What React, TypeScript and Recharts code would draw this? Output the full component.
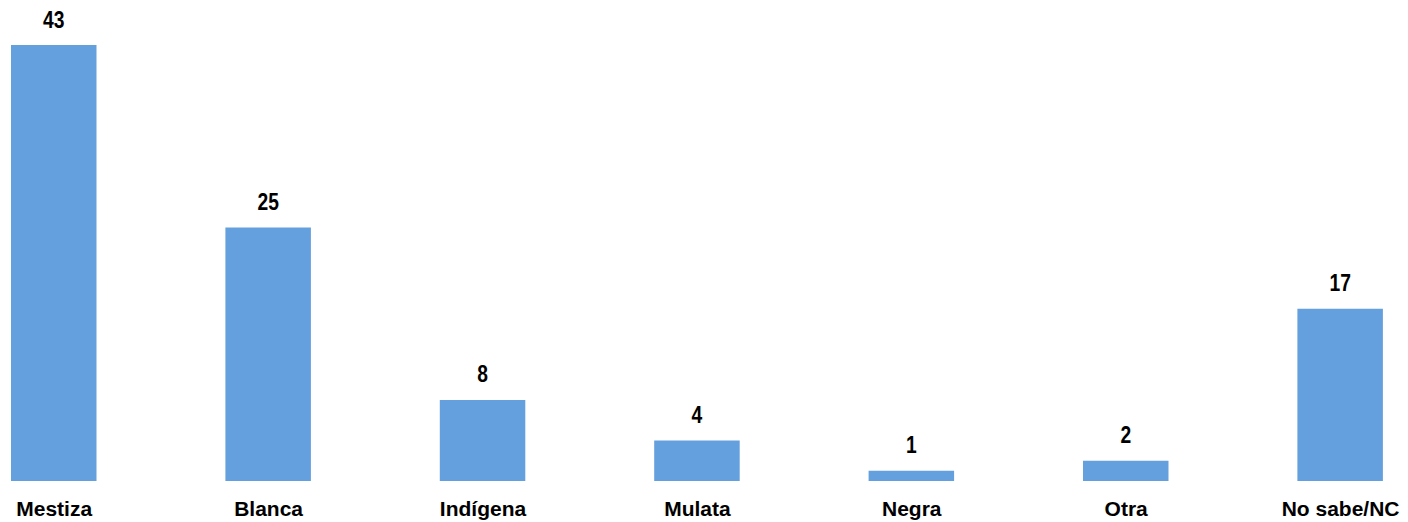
import { BarChart, Bar, XAxis, YAxis, LabelList } from "recharts";

const categories = ["Mestiza", "Blanca", "Indígena", "Mulata", "Negra", "Otra", "No sabe/NC"];
const values = [43, 25, 8, 4, 1, 2, 17];

const data = categories.map((name, i) => ({ name, value: values[i] }));

// narrow bold numbers above each bar (no Arial Narrow here, so squeeze Liberation Sans)
function ValueLabel(props: any) {
  const { x, y, width, value } = props;
  const cx = Number(x) + Number(width) / 2;
  const by = Number(y) - 17.4;
  return (
    <text
      transform={`translate(${cx},${by}) scale(0.82,1)`}
      textAnchor="middle"
      fontSize={23.5}
      fontWeight={700}
      fill="#000"
      fontFamily="'Liberation Sans', Arial, sans-serif"
    >
      {value}
    </text>
  );
}

function CategoryTick(props: any) {
  const { x, y, payload } = props;
  return (
    <text
      x={x}
      y={Number(y) + 34.7}
      textAnchor="middle"
      fontSize={21}
      fontWeight={700}
      fill="#000"
      fontFamily="'Liberation Sans', Arial, sans-serif"
    >
      {payload.value}
    </text>
  );
}

export default function App() {
  return (
    <div style={{ position: "absolute", left: 0, top: 0, width: 1408, height: 522, overflow: "hidden", background: "#fff" }}>
      <div style={{ marginLeft: -52.6 }}>
        <BarChart
          width={1500.8}
          height={522}
          data={data}
          margin={{ top: 45, right: 0, left: 0, bottom: 0 }}
          barSize={85.5}
        >
          <XAxis
            dataKey="name"
            axisLine={false}
            tickLine={false}
            tickSize={0}
            tickMargin={0}
            height={41}
            interval={0}
            tick={<CategoryTick />}
          />
          <YAxis hide domain={[0, 43]} />
          <Bar dataKey="value" fill="#64A0DD" isAnimationActive={false}>
            <LabelList dataKey="value" content={<ValueLabel />} />
          </Bar>
        </BarChart>
      </div>
    </div>
  );
}
